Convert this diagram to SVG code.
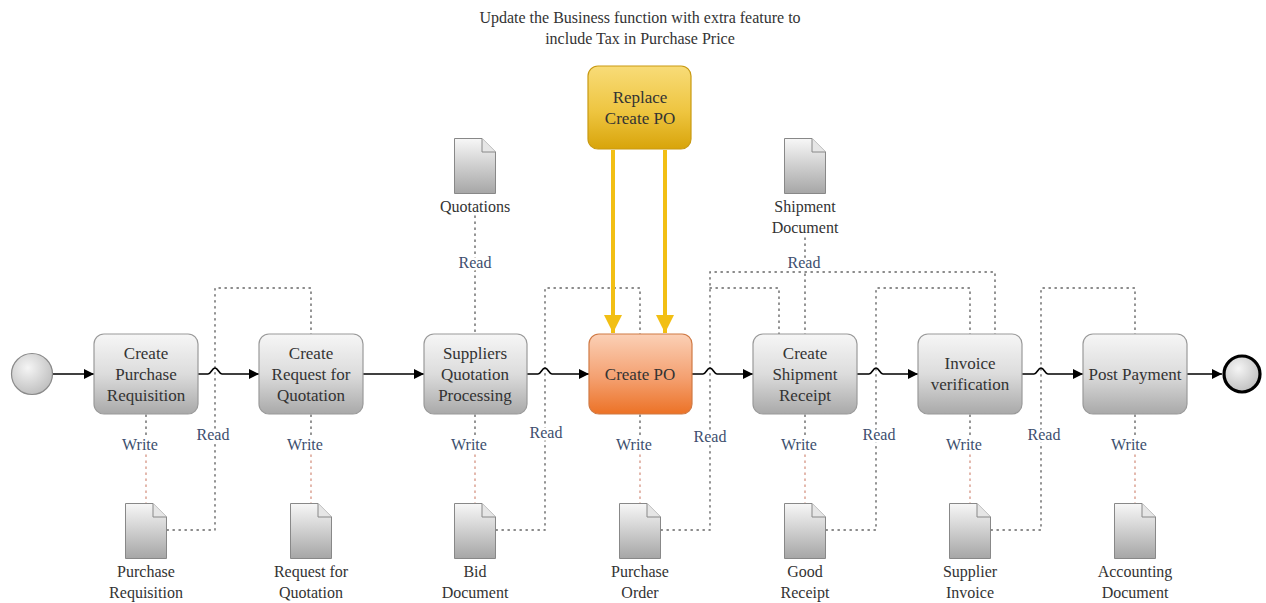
<svg xmlns="http://www.w3.org/2000/svg" width="1266" height="603" viewBox="0 0 1266 603" font-family="'Liberation Serif', 'Times New Roman', serif">
<defs>
<linearGradient id="gTask" x1="0" y1="0" x2="0" y2="1"><stop offset="0" stop-color="#f6f6f6"/><stop offset="0.5" stop-color="#dcdcdc"/><stop offset="1" stop-color="#a9a9a9"/></linearGradient>
<linearGradient id="gPO" x1="0" y1="0" x2="0" y2="1"><stop offset="0" stop-color="#fbd0b6"/><stop offset="0.55" stop-color="#f4a070"/><stop offset="1" stop-color="#ec7226"/></linearGradient>
<linearGradient id="gRep" x1="0" y1="0" x2="0" y2="1"><stop offset="0" stop-color="#f8dc78"/><stop offset="0.55" stop-color="#eec540"/><stop offset="1" stop-color="#d8a40a"/></linearGradient>
<linearGradient id="gDoc" x1="0" y1="0" x2="0" y2="1"><stop offset="0" stop-color="#f7f7f7"/><stop offset="1" stop-color="#a6a6a6"/></linearGradient>
<radialGradient id="gEv" cx="0.4" cy="0.35" r="0.7"><stop offset="0" stop-color="#f5f5f5"/><stop offset="1" stop-color="#bdbdbd"/></radialGradient>
<marker id="arr" viewBox="0 0 10 10" refX="10" refY="5" markerWidth="10" markerHeight="10" markerUnits="userSpaceOnUse" orient="auto"><path d="M0,0 L10,5 L0,10 z" fill="#000"/></marker>
<marker id="yarr" viewBox="0 0 10 10" refX="10" refY="5" markerWidth="18" markerHeight="18" markerUnits="userSpaceOnUse" orient="auto"><path d="M0,0 L10,5 L0,10 z" fill="#f2bf14"/></marker>
<symbol id="doc" viewBox="0 0 42 56" overflow="visible"><path d="M0.5,0.5 H28 L41.5,14 V55.5 H0.5 Z" fill="url(#gDoc)" stroke="#888" stroke-width="1"/><path d="M28,0.5 V14 H41.5" fill="#e6e6e6" stroke="#888" stroke-width="1"/></symbol>
</defs>
<style>
text{font-family:"Liberation Serif","Times New Roman",serif}
.task{stroke:#9a9a9a;stroke-width:1.2}
.tt{font-size:17px;fill:#333;text-anchor:middle}
.dl{font-size:16px;fill:#333;text-anchor:middle}
.lbl{font-size:16px;fill:#3d4f6e;text-anchor:middle;stroke:#fff;stroke-width:5px;paint-order:stroke;stroke-linejoin:round}
.seq{fill:none;stroke:#000;stroke-width:1.6}
.dot{fill:none;stroke:#666;stroke-width:1.4;stroke-dasharray:1.4 4.6;stroke-linecap:round}
.dotr{fill:none;stroke:#d89a8a;stroke-width:1.4;stroke-dasharray:1.4 4.6;stroke-linecap:round}
.yel{fill:none;stroke:#f2bf14;stroke-width:4}
</style>
<rect width="1266" height="603" fill="#fff"/>
<g id="title"><text class="dl" x="640" y="23">Update the Business function with extra feature to</text><text class="dl" x="640" y="44">include Tax in Purchase Price</text></g>

<g id="connectors">
<path class="dot" d="M146,415 V436"/><path class="dotr" d="M146,455 V503"/>
<path class="dot" d="M311,415 V436"/><path class="dotr" d="M311,455 V503"/>
<path class="dot" d="M475,415 V436"/><path class="dotr" d="M475,455 V503"/>
<path class="dot" d="M640,415 V436"/><path class="dotr" d="M640,455 V503"/>
<path class="dot" d="M805,415 V436"/><path class="dotr" d="M805,455 V503"/>
<path class="dot" d="M970,415 V436"/><path class="dotr" d="M970,455 V503"/>
<path class="dot" d="M1135,415 V436"/><path class="dotr" d="M1135,455 V503"/>
<path class="dot" d="M167,530 H215 V288 H311 V334"/>
<path class="dot" d="M475,216 V334"/>
<path class="dot" d="M496,530 H545 V288 H640 V334"/>
<path class="dot" d="M661,530 H710 V272 H995 V334"/>
<path class="dot" d="M710,288 H779 V334"/>
<path class="dot" d="M805,238 V334"/>
<path class="dot" d="M826,530 H876 V288 H970 V334"/>
<path class="dot" d="M991,530 H1041 V288 H1135 V334"/>
<path class="seq" d="M53,374 H94" marker-end="url(#arr)"/>
<path class="seq" d="M198,374 H208 C211,374 212,368 215,368 C218,368 219,374 222,374 H259" marker-end="url(#arr)"/>
<path class="seq" d="M363,374 H424" marker-end="url(#arr)"/>
<path class="seq" d="M527,374 H538 C541,374 542,368 545,368 C548,368 549,374 552,374 H589" marker-end="url(#arr)"/>
<path class="seq" d="M692,374 H703 C706,374 707,368 710,368 C713,368 714,374 717,374 H753" marker-end="url(#arr)"/>
<path class="seq" d="M857,374 H869 C872,374 873,368 876,368 C879,368 880,374 883,374 H918" marker-end="url(#arr)"/>
<path class="seq" d="M1022,374 H1034 C1037,374 1038,368 1041,368 C1044,368 1045,374 1048,374 H1083" marker-end="url(#arr)"/>
<path class="seq" d="M1187,374 H1222" marker-end="url(#arr)"/>
<path class="yel" d="M613,150 V333" marker-end="url(#yarr)"/>
<path class="yel" d="M665,150 V333" marker-end="url(#yarr)"/>
<text class="lbl" x="140" y="450">Write</text>
<text class="lbl" x="305" y="450">Write</text>
<text class="lbl" x="469" y="450">Write</text>
<text class="lbl" x="634" y="450">Write</text>
<text class="lbl" x="799" y="450">Write</text>
<text class="lbl" x="964" y="450">Write</text>
<text class="lbl" x="1129" y="450">Write</text>
<text class="lbl" x="213" y="440">Read</text>
<text class="lbl" x="475" y="268">Read</text>
<text class="lbl" x="546" y="438">Read</text>
<text class="lbl" x="710" y="442">Read</text>
<text class="lbl" x="804" y="268">Read</text>
<text class="lbl" x="879" y="440">Read</text>
<text class="lbl" x="1044" y="440">Read</text>
</g>

<g id="start"><circle cx="32" cy="374" r="20.5" fill="url(#gEv)" stroke="#8a8a8a" stroke-width="1.2"/></g>
<g id="end"><circle cx="1242" cy="374" r="18" fill="url(#gEv)" stroke="#000" stroke-width="3.2"/></g>

<g id="task-cpr"><rect class="task" x="94" y="334" width="104" height="80" rx="10" fill="url(#gTask)"/><text class="tt" x="146" y="359">Create</text><text class="tt" x="146" y="380">Purchase</text><text class="tt" x="146" y="401">Requisition</text></g>
<g id="task-crq"><rect class="task" x="259" y="334" width="104" height="80" rx="10" fill="url(#gTask)"/><text class="tt" x="311" y="359">Create</text><text class="tt" x="311" y="380">Request for</text><text class="tt" x="311" y="401">Quotation</text></g>
<g id="task-sqp"><rect class="task" x="424" y="334" width="103" height="80" rx="10" fill="url(#gTask)"/><text class="tt" x="475" y="359">Suppliers</text><text class="tt" x="475" y="380">Quotation</text><text class="tt" x="475" y="401">Processing</text></g>
<g id="task-cpo"><rect x="589" y="334" width="103" height="80" rx="10" fill="url(#gPO)" stroke="#d07a45" stroke-width="1.2"/><text class="tt" x="640" y="380">Create PO</text></g>
<g id="task-csr"><rect class="task" x="753" y="334" width="104" height="80" rx="10" fill="url(#gTask)"/><text class="tt" x="805" y="359">Create</text><text class="tt" x="805" y="380">Shipment</text><text class="tt" x="805" y="401">Receipt</text></g>
<g id="task-iv"><rect class="task" x="918" y="334" width="104" height="80" rx="10" fill="url(#gTask)"/><text class="tt" x="970" y="369">Invoice</text><text class="tt" x="970" y="390">verification</text></g>
<g id="task-pp"><rect class="task" x="1083" y="334" width="104" height="80" rx="10" fill="url(#gTask)"/><text class="tt" x="1135" y="380">Post Payment</text></g>
<g id="task-replace"><rect x="588" y="66" width="103" height="83" rx="10" fill="url(#gRep)" stroke="#c99a12" stroke-width="1.2"/><text class="tt" x="640" y="103">Replace</text><text class="tt" x="640" y="124">Create PO</text></g>

<g id="doc-pr"><use href="#doc" x="125" y="503" width="42" height="56"/><text class="dl" x="146" y="577">Purchase</text><text class="dl" x="146" y="598">Requisition</text></g>
<g id="doc-rfq"><use href="#doc" x="290" y="503" width="42" height="56"/><text class="dl" x="311" y="577">Request for</text><text class="dl" x="311" y="598">Quotation</text></g>
<g id="doc-bid"><use href="#doc" x="454" y="503" width="42" height="56"/><text class="dl" x="475" y="577">Bid</text><text class="dl" x="475" y="598">Document</text></g>
<g id="doc-po"><use href="#doc" x="619" y="503" width="42" height="56"/><text class="dl" x="640" y="577">Purchase</text><text class="dl" x="640" y="598">Order</text></g>
<g id="doc-gr"><use href="#doc" x="784" y="503" width="42" height="56"/><text class="dl" x="805" y="577">Good</text><text class="dl" x="805" y="598">Receipt</text></g>
<g id="doc-si"><use href="#doc" x="949" y="503" width="42" height="56"/><text class="dl" x="970" y="577">Supplier</text><text class="dl" x="970" y="598">Invoice</text></g>
<g id="doc-ad"><use href="#doc" x="1114" y="503" width="42" height="56"/><text class="dl" x="1135" y="577">Accounting</text><text class="dl" x="1135" y="598">Document</text></g>
<g id="doc-q"><use href="#doc" x="454" y="138" width="42" height="56"/><text class="dl" x="475" y="212">Quotations</text></g>
<g id="doc-sd"><use href="#doc" x="784" y="138" width="42" height="56"/><text class="dl" x="805" y="212">Shipment</text><text class="dl" x="805" y="233">Document</text></g>
</svg>
